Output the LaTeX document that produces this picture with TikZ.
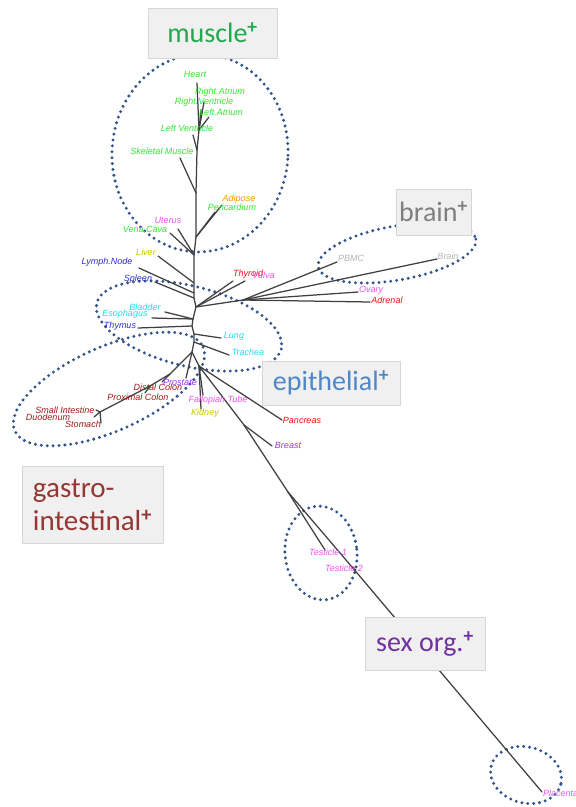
\documentclass[tikz,border=0pt]{standalone}
\usepackage{fontspec}
\setmainfont{Liberation Sans}
\newfontfamily\tagfont{Carlito}
\usetikzlibrary{positioning}

\definecolor{leafgreen}{HTML}{33E633}
\definecolor{leaforange}{HTML}{FF9900}
\definecolor{leafpink}{HTML}{EE55EE}
\definecolor{leafolive}{HTML}{C8C800}
\definecolor{leafblue}{HTML}{2E2EC8}
\definecolor{leafcyan}{HTML}{22DDEE}
\definecolor{leafred}{HTML}{EE1111}
\definecolor{leafgray}{HTML}{B4B4B4}
\definecolor{leafbrown}{HTML}{A01818}
\definecolor{leafpurple}{HTML}{9933EE}
\definecolor{ringblue}{HTML}{34558A}
\definecolor{tagfill}{HTML}{F0F0F0}
\definecolor{tagline}{HTML}{D6D6D6}
\definecolor{musclegreen}{HTML}{22A84E}
\definecolor{braingray}{HTML}{7F7F7F}
\definecolor{epiblue}{HTML}{4F86C6}
\definecolor{gutred}{HTML}{953735}
\definecolor{sexpurple}{HTML}{7030A0}

\newcommand{\plus}{\textsuperscript{\bfseries +}}

\begin{document}
\begin{tikzpicture}[
  x=1pt,y=-1pt,
  line cap=round,
  line join=round,
  branch/.style={black!75,line width=1.25pt},
  leaf/.style={font=\fontsize{9}{9}\selectfont\itshape,inner sep=0pt},
  ring/.style={ringblue,line width=3.3pt,line cap=round,dash pattern=on 0pt off 5.9pt},
  tag/.style={draw=tagline,fill=tagfill,line width=0.8pt,inner sep=0pt,
    font=\tagfont\fontsize{28}{30}\selectfont}
]
\useasboundingbox (0,0) rectangle (576,807);
\clip (0,0) rectangle (576,807);
\fill[white] (0,0) rectangle (576,807);

% groups
\draw[ring,rotate around={-4:(200,153)}] (200,153) ellipse [x radius=88,y radius=99];
\draw[ring,rotate around={10:(397,253)}] (397,253) ellipse [x radius=80,y radius=27];
\draw[ring,rotate around={-14:(189,326)}] (189,326) ellipse [x radius=95,y radius=40];
\draw[ring,rotate around={24:(109,389)}] (109,389) ellipse [x radius=103,y radius=42];
\draw[ring,rotate around={6:(321,553)}] (321,553) ellipse [x radius=36,y radius=47];
\draw[ring,rotate around={-15:(526,775)}] (526,775) ellipse [x radius=36,y radius=28];

% inner points of the tree
\coordinate (t1) at (199,130);
\coordinate (t2) at (197,150);
\coordinate (t3) at (196,193);
\coordinate (t4) at (196,237);
\coordinate (t5) at (194,255);
\coordinate (t6) at (194,283);
\coordinate (t7) at (194,293);
\coordinate (t8) at (194,298);
\coordinate (t9) at (196,307);
\coordinate (t10) at (193,319);
\coordinate (t11) at (192,326);
\coordinate (t12) at (194,334);
\coordinate (t13) at (194,342);
\coordinate (t14) at (192,352);
\coordinate (t15) at (199,366);
\coordinate (b1) at (243,300);
\coordinate (g1) at (170,374);
\coordinate (g2) at (150,386);
\coordinate (g3) at (100,412);
\coordinate (l1) at (244,425);
\coordinate (l2) at (288,492);
\coordinate (l3) at (352,567);

% tips
\coordinate (heart) at (197,83);
\coordinate (ratrium) at (204,102);
\coordinate (rventr) at (201,110);
\coordinate (latrium) at (209,117);
\coordinate (lventr) at (193,135);
\coordinate (skeletal) at (180,158);
\coordinate (adipose) at (222,205);
\coordinate (pericard) at (215,212);
\coordinate (uterus) at (178,229);
\coordinate (venacava) at (170,233);
\coordinate (liver) at (158,256);
\coordinate (lymph) at (139,268);
\coordinate (spleen) at (155,282);
\coordinate (thyroid) at (233,281);
\coordinate (vulva) at (245,281);
\coordinate (pbmc) at (337,262);
\coordinate (brain) at (437,259);
\coordinate (ovary) at (358,292);
\coordinate (adrenal) at (370,302);
\coordinate (bladder) at (165,312);
\coordinate (esoph) at (152,318);
\coordinate (thymus) at (138,328);
\coordinate (lung) at (221,338);
\coordinate (trachea) at (229,355);
\coordinate (prostate) at (186,378);
\coordinate (dcolon) at (162,382);
\coordinate (pcolon) at (145,393);
\coordinate (sintest) at (96,410);
\coordinate (duoden) at (94,417);
\coordinate (stomach) at (101,423);
\coordinate (fallop) at (203,395);
\coordinate (kidney) at (201,409);
\coordinate (pancreas) at (282,420);
\coordinate (breast) at (272,446);
\coordinate (test1) at (325,550);
\coordinate (test2) at (356,570);
\coordinate (placenta) at (542,792);

% trunk
\draw[branch] (heart) -- (t1) -- (t2) -- (t3) -- (t4) -- (t5) -- (t6) -- (t7) -- (t8)
  -- (t9) -- (t10) -- (t11) -- (t12) -- (t13) -- (t14) -- (t15);

% branches
\draw[branch] (t1) -- (ratrium);
\draw[branch] (t1) -- (rventr);
\draw[branch] (t1) -- (latrium);
\draw[branch] (t2) -- (lventr);
\draw[branch] (t3) -- (skeletal);
\draw[branch] (t4) -- (adipose);
\draw[branch] (t4) -- (pericard);
\draw[branch] (t5) -- (uterus);
\draw[branch] (t5) -- (venacava);
\draw[branch] (t6) -- (liver);
\draw[branch] (t7) -- (lymph);
\draw[branch] (t8) -- (spleen);
\draw[branch] (t9) -- (thyroid);
\draw[branch] (t9) -- (vulva);
\draw[branch] (t9) -- (b1);
\draw[branch] (b1) -- (pbmc);
\draw[branch] (b1) -- (brain);
\draw[branch] (b1) -- (ovary);
\draw[branch] (b1) -- (adrenal);
\draw[branch] (t10) -- (bladder);
\draw[branch] (t10) -- (esoph);
\draw[branch] (t11) -- (thymus);
\draw[branch] (t12) -- (lung);
\draw[branch] (t13) -- (trachea);
\draw[branch] (t14) -- (prostate);
\draw[branch] (t14) -- (g1);
\draw[branch] (g1) -- (dcolon);
\draw[branch] (g1) -- (g2);
\draw[branch] (g2) -- (pcolon);
\draw[branch] (g2) -- (g3);
\draw[branch] (g3) -- (sintest);
\draw[branch] (g3) -- (duoden);
\draw[branch] (g3) -- (stomach);
\draw[branch] (t15) -- (fallop);
\draw[branch] (t15) -- (kidney);
\draw[branch] (t15) -- (pancreas);
\draw[branch] (t15) -- (l1);
\draw[branch] (l1) -- (breast);
\draw[branch] (l1) -- (l2);
\draw[branch] (l2) -- (test1);
\draw[branch] (l2) -- (l3);
\draw[branch] (l3) -- (test2);
\draw[branch] (l3) -- (placenta);

% leaf labels
\node[leaf,text=leafgreen] (nheart) at (195,74) {Heart};
\node[leaf,text=leafgreen] (nratrium) at (220,92) {Right.Atrium};
\node[leaf,text=leafgreen] (nrventr) at (204,102) {Right.Ventricle};
\node[leaf,text=leafgreen] (nlatrium) at (221,112) {Left.Atrium};
\node[leaf,text=leafgreen] (nlventr) at (187,128) {Left Ventricle};
\node[leaf,text=leafgreen] (nskeletal) at (162,151) {Skeletal Muscle};
\node[leaf,text=leaforange] (nadipose) at (239,199) {Adipose};
\node[leaf,text=leafgreen] (npericard) at (232,207) {Pericardium};
\node[leaf,text=leafpink] (nuterus) at (168,220) {Uterus};
\node[leaf,text=leafgreen] (nvenacava) at (145,229) {Vena.Cava};
\node[leaf,text=leafolive] (nliver) at (146,252) {Liver};
\node[leaf,text=leafblue] (nlymph) at (107,262) {Lymph.Node};
\node[leaf,text=leafblue] (nspleen) at (138,279) {Spleen};
\node[leaf,text=leafred,anchor=west] (nthyroid) at (233,274) {Thyroid};
\node[leaf,text=leafpink,anchor=west] (nvulva) at (252,275) {Vulva};
\node[leaf,text=leafgray] (npbmc) at (351,258) {PBMC};
\node[leaf,text=leafgray] (nbrain) at (448,256) {Brain};
\node[leaf,text=leafpink] (novary) at (371,290) {Ovary};
\node[leaf,text=leafred] (nadrenal) at (387,300) {Adrenal};
\node[leaf,text=leafcyan] (nbladder) at (145,307) {Bladder};
\node[leaf,text=leafcyan] (nesoph) at (125,314) {Esophagus};
\node[leaf,text=leafblue] (nthymus) at (120,326) {Thymus};
\node[leaf,text=leafcyan] (nlung) at (234,336) {Lung};
\node[leaf,text=leafcyan] (ntrachea) at (248,352) {Trachea};
\node[leaf,text=leafbrown] (ndcolon) at (158,387) {Distal Colon};
\node[leaf,text=leafpurple] (nprostate) at (180,382) {Prostate};
\node[leaf,text=leafbrown] (npcolon) at (138,397) {Proximal Colon};
\node[leaf,text=leafbrown] (nsintest) at (65,410) {Small Intestine};
\node[leaf,text=leafbrown] (nduoden) at (48,417) {Duodenum};
\node[leaf,text=leafbrown] (nstomach) at (83,424) {Stomach};
\node[leaf,text=leafpink] (nfallop) at (218,400) {Fallopian Tube};
\node[leaf,text=leafolive] (nkidney) at (205,413) {Kidney};
\node[leaf,text=leafred] (npancreas) at (302,420) {Pancreas};
\node[leaf,text=leafpurple] (nbreast) at (288,445) {Breast};
\node[leaf,text=leafpink] (ntest1) at (328,552) {Testicle 1};
\node[leaf,text=leafpink] (ntest2) at (344,568) {Testicle 2};
\node[leaf,text=leafpink,anchor=west] (nplacenta) at (543,793) {Placenta};

% group tags
\node[tag,minimum width=129,minimum height=50,text=musclegreen] (muscletag)
  at (212.5,33) {muscle\plus};
\node[tag,minimum width=75,minimum height=46,text=braingray] (braintag)
  at (433.5,212) {brain\plus};
\node[tag,minimum width=138,minimum height=44,text=epiblue] (epitag)
  at (331,383) {epithelial\plus};
\node[tag,minimum width=141,minimum height=77,text=gutred,align=left,
  font=\tagfont\fontsize{29}{33}\selectfont] (guttag)
  at (92.5,504.5) {gastro-\\intestinal\plus};
\node[tag,minimum width=120,minimum height=53,text=sexpurple] (sextag)
  at (425,643.5) {sex org.\plus};
\end{tikzpicture}
\end{document}
